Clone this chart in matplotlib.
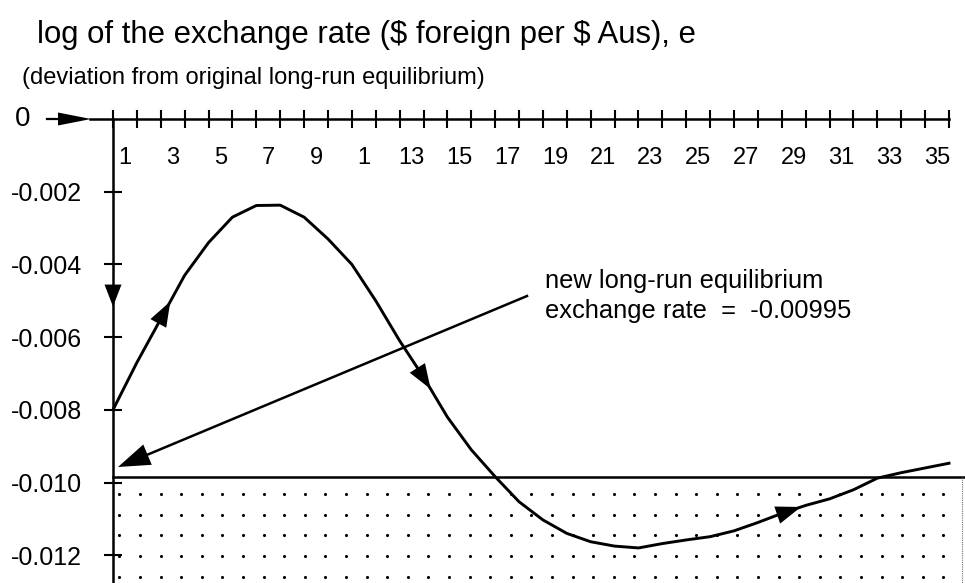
import numpy as np
import matplotlib.pyplot as plt

# periods on the horizontal axis (tick marks) and the simulated path of e
periods = np.arange(0, 36)
log_e = [-0.0080, -0.0067, -0.0055, -0.0043, -0.0034, -0.0027, -0.00238, -0.00237,
         -0.0027, -0.0033, -0.0040, -0.0050, -0.0061, -0.0071, -0.0082, -0.0091,
         -0.00984, -0.01053, -0.01103, -0.0114, -0.01163, -0.01175, -0.0118, -0.01168,
         -0.01158, -0.01149, -0.01133, -0.0111, -0.01085, -0.01063, -0.01045, -0.0102,
         -0.00988, -0.00973, -0.0096, -0.00947]

# jump at time 0: from the old equilibrium (0) down to the first value
jump_from = 0.0

# new long-run equilibrium (as drawn) and its label
new_eq_drawn = -0.00984
new_eq_text = "-0.00995"

# axis labels (the original reads "1" instead of "11")
x_label_pos = [0.5, 2.5, 4.5, 6.5, 8.5, 10.5, 12.5, 14.5, 16.5, 18.5, 20.5, 22.5,
               24.5, 26.5, 28.5, 30.5, 32.5, 34.5]
x_labels = ["1", "3", "5", "7", "9", "1", "13", "15", "17", "19", "21", "23",
            "25", "27", "29", "31", "33", "35"]
y_ticks = [-0.002, -0.004, -0.006, -0.008, -0.010, -0.012]
y_labels = ["-0.002", "-0.004", "-0.006", "-0.008", "-0.010", "-0.012"]

title = r"log of the exchange rate (\$ foreign per \$ Aus), e"
subtitle = "(deviation from original long-run equilibrium)"
note = "new long-run equilibrium\nexchange rate  =  " + new_eq_text

W, H = 965, 583
X0_PX, UNIT_PX = 113, 23.886      # pixel of x=0, pixels per period
Y0_PX, VAL_PER_PX = 119, 2.751e-5  # pixel of y=0, value per pixel


def to_data(px, py):
    return (px - X0_PX) / UNIT_PX, -(py - Y0_PX) * VAL_PER_PX


def head(ax, tail, tip, length_px, width_px):
    ms = 10
    style = "-|>,head_length=%.3f,head_width=%.3f" % (
        length_px * 0.72 / ms, width_px * 0.36 / ms)
    ax.annotate("", xy=tip, xytext=tail,
                arrowprops=dict(arrowstyle=style, mutation_scale=ms, lw=0,
                                fc="black", ec="black", shrinkA=0, shrinkB=0))


def on_curve(x):
    return x, np.interp(x, periods, log_e)


def main():
    plt.rcParams["font.family"] = ["Liberation Sans", "DejaVu Sans"]
    fig = plt.figure(figsize=(W / 100, H / 100), dpi=100)
    ax = fig.add_axes([0, 0, 1, 1])
    ax.set_xlim(-X0_PX / UNIT_PX, (W - X0_PX) / UNIT_PX)
    ax.set_ylim(-(H - Y0_PX) * VAL_PER_PX, Y0_PX * VAL_PER_PX)

    # --------------------------------------------------
    # AXES
    # --------------------------------------------------
    for side in ["top", "right"]:
        ax.spines[side].set_visible(False)
    ax.spines["left"].set_position(("data", 0))
    ax.spines["bottom"].set_position(("data", 0))
    ax.spines["left"].set_bounds(ax.get_ylim()[0], 0)
    ax.spines["bottom"].set_bounds(to_data(90, 0)[0], periods[-1])
    ax.spines["left"].set_linewidth(1.8)
    ax.spines["bottom"].set_linewidth(1.8)

    ax.set_xticks(periods)
    ax.set_xticks(x_label_pos, minor=True)
    ax.set_xticklabels([])
    ax.set_xticklabels(x_labels, minor=True)
    ax.tick_params(axis="x", which="major", direction="inout", length=13, width=1.5)
    ax.tick_params(axis="x", which="minor", length=0, pad=20, labelsize=17)
    ax.set_yticks(y_ticks)
    ax.set_yticklabels(y_labels)
    ax.tick_params(axis="y", direction="inout", length=13, width=1.5, pad=16,
                   labelsize=18)

    # zero label with its arrow
    zx, zy = to_data(47, 119)
    ax.text(to_data(15, 0)[0], 0, "0", fontsize=20, ha="left", va="center")
    ax.plot([zx, to_data(70, 0)[0]], [0, 0], color="black", lw=1.6)
    head(ax, (zx, 0), (to_data(91, 0)[0], 0), 33, 13)

    # --------------------------------------------------
    # NEW EQUILIBRIUM + SHADED REGION
    # --------------------------------------------------
    ax.axhline(new_eq_drawn, xmin=X0_PX / W, xmax=1, color="black", lw=1.8)
    gx0, gy0 = to_data(119.3, 494)
    gx = gx0 + np.arange(41) * 20.6 / UNIT_PX
    gy = gy0 - np.arange(5) * 20.7 * VAL_PER_PX
    gxx, gyy = np.meshgrid(gx, gy)
    ax.scatter(gxx.ravel(), gyy.ravel(), s=5, color="black", lw=0)
    edge_x = to_data(962, 0)[0]
    ax.plot([edge_x, edge_x], [new_eq_drawn, ax.get_ylim()[0]],
            color="0.45", lw=0.8, ls=(0, (1, 1)))

    # --------------------------------------------------
    # PATH OF e
    # --------------------------------------------------
    ax.plot(periods, log_e, color="black", lw=2.1, solid_joinstyle="round")
    head(ax, (0, jump_from - 0.001), (0, -0.00516), 22, 17)
    head(ax, on_curve(1.6), on_curve(2.4), 25, 18)
    head(ax, on_curve(12.6), on_curve(13.3), 25, 18)
    head(ax, on_curve(27.9), on_curve(28.8), 25, 18)

    # annotation arrow
    tail = to_data(527, 296)
    tip = to_data(118, 467)
    ax.plot([tail[0], to_data(140, 0)[0]],
            [tail[1], tail[1] + (tip[1] - tail[1]) * (527 - 140) / (527 - 118)],
            color="black", lw=1.8)
    head(ax, tail, tip, 32, 22)

    # --------------------------------------------------
    # TEXT
    # --------------------------------------------------
    fig.text(37 / W, 1 - 35 / H, title, fontsize=22.4, ha="left", va="center")
    fig.text(22 / W, 1 - 78 / H, subtitle, fontsize=17, ha="left", va="center")
    fig.text(545 / W, 1 - 296 / H, note, fontsize=18.4, ha="left", va="center",
             linespacing=1.3)

    fig.savefig("out.png", dpi=100)


if __name__ == "__main__":
    main()
